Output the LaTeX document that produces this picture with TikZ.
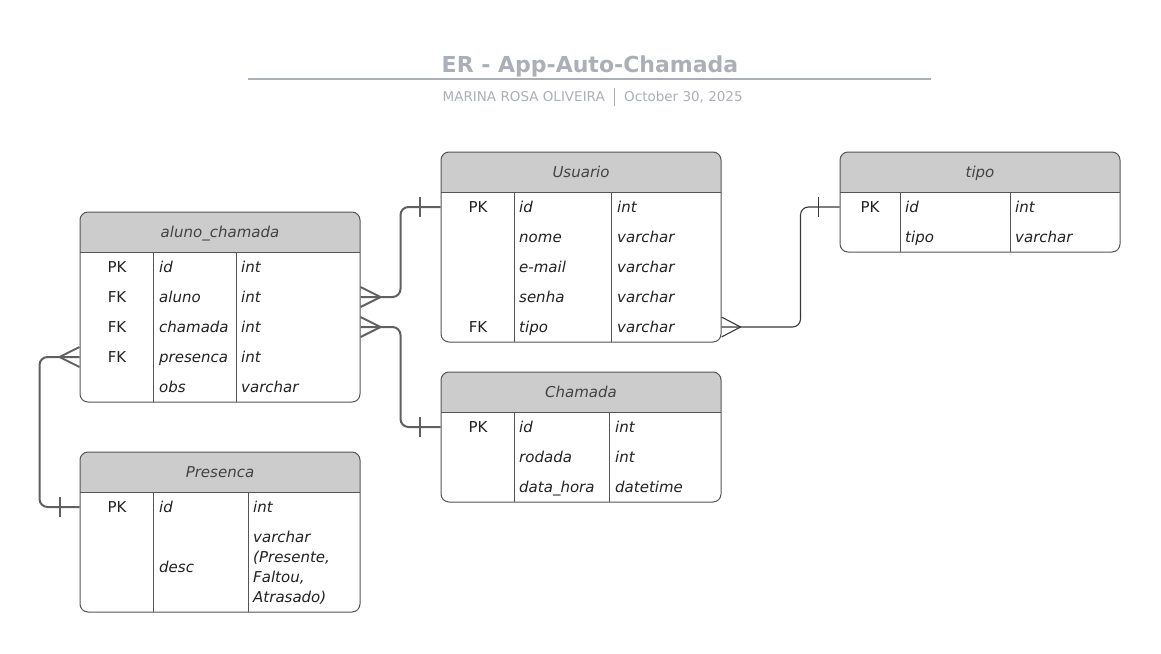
\documentclass[tikz,border=0pt]{standalone}
\usepackage{fontspec}
\setmainfont{DejaVu Sans}
\usetikzlibrary{calc}
\definecolor{titlegray}{HTML}{ABAFB7}
\definecolor{headfill}{HTML}{CCCCCC}
\definecolor{boxline}{HTML}{555555}
\definecolor{connline}{HTML}{606060}
\definecolor{txt}{HTML}{222222}
\tikzset{
  tbox/.style={draw=boxline, line width=1pt, rounded corners=8pt, inner sep=0pt},
  divline/.style={draw=boxline, line width=0.9pt},
  headtxt/.style={font=\fontsize{15}{18}\selectfont\itshape, text=txt!85!white, inner sep=0pt, text height=12pt, text depth=1pt},
  keytxt/.style={font=\fontsize{15}{18}\selectfont, text=txt, inner sep=0pt, text height=12pt, text depth=1pt},
  fldtxt/.style={font=\fontsize{15}{18}\selectfont\itshape, text=txt, inner sep=0pt, anchor=west, text height=12pt, text depth=1pt},
  conn/.style={draw=connline, line width=2pt, rounded corners=8pt},
  connthin/.style={draw=txt!90!white, line width=1.1pt, rounded corners=8pt},
}
\begin{document}
\begin{tikzpicture}[x=1pt,y=-1pt]
\useasboundingbox[fill=white] (0,0) rectangle (1161,653);

% title
\node[font=\fontsize{22}{26}\selectfont\bfseries, text=titlegray, inner sep=0pt, text height=17pt, text depth=5pt] (title) at (590,66) {ER - App-Auto-Chamada};
\coordinate (tl) at (248,79);
\coordinate (tr) at (931,79);
\draw[titlegray, line width=2pt] (tl) -- (tr);
\node[font=\fontsize{13.5}{16}\selectfont, text=titlegray, inner sep=0pt, anchor=east, text height=10pt, text depth=2pt] (author) at (605,97) {MARINA ROSA OLIVEIRA};
\node[font=\fontsize{13.5}{16}\selectfont, text=titlegray, inner sep=0pt, anchor=west, text height=10pt, text depth=2pt] (date) at (624,97) {October 30, 2025};
\coordinate (sbt) at (614,88);
\coordinate (sbb) at (614,106);
\draw[titlegray, line width=0.8pt] (sbt) -- (sbb);

% ---------- aluno_chamada ----------
\begin{scope}
\clip[rounded corners=8pt] (80,212) rectangle (360,402);
\fill[headfill] (80,212) rectangle (360,252);
\end{scope}
\node[tbox, minimum width=280pt, minimum height=190pt] (alu) at (220,307) {};
\draw[divline] (80,252) -- (360,252);
\draw[divline] (153,252) -- (153,402);
\draw[divline] (236,252) -- (236,402);
\node[headtxt] (alu-h) at (220,232) {aluno\_chamada};
\node[keytxt] (alu-k1) at (117,267) {PK};
\node[keytxt] (alu-k2) at (117,297) {FK};
\node[keytxt] (alu-k3) at (117,327) {FK};
\node[keytxt] (alu-k4) at (117,357) {FK};
\node[fldtxt] (alu-f1) at (159,267) {id};
\node[fldtxt] (alu-f2) at (159,297) {aluno};
\node[fldtxt] (alu-f3) at (159,327) {chamada};
\node[fldtxt] (alu-f4) at (159,357) {presenca};
\node[fldtxt] (alu-f5) at (159,387) {obs};
\node[fldtxt] (alu-t1) at (241,267) {int};
\node[fldtxt] (alu-t2) at (241,297) {int};
\node[fldtxt] (alu-t3) at (241,327) {int};
\node[fldtxt] (alu-t4) at (241,357) {int};
\node[fldtxt] (alu-t5) at (241,387) {varchar};

% ---------- Usuario ----------
\begin{scope}
\clip[rounded corners=8pt] (441,152) rectangle (721,342);
\fill[headfill] (441,152) rectangle (721,192);
\end{scope}
\node[tbox, minimum width=280pt, minimum height=190pt] (usu) at (581,247) {};
\draw[divline] (441,192) -- (721,192);
\draw[divline] (514,192) -- (514,342);
\draw[divline] (611,192) -- (611,342);
\node[headtxt] (usu-h) at (581,172) {Usuario};
\node[keytxt] (usu-k1) at (478,207) {PK};
\node[keytxt] (usu-k5) at (478,327) {FK};
\node[fldtxt] (usu-f1) at (519,207) {id};
\node[fldtxt] (usu-f2) at (519,237) {nome};
\node[fldtxt] (usu-f3) at (519,267) {e-mail};
\node[fldtxt] (usu-f4) at (519,297) {senha};
\node[fldtxt] (usu-f5) at (519,327) {tipo};
\node[fldtxt] (usu-t1) at (617,207) {int};
\node[fldtxt] (usu-t2) at (617,237) {varchar};
\node[fldtxt] (usu-t3) at (617,267) {varchar};
\node[fldtxt] (usu-t4) at (617,297) {varchar};
\node[fldtxt] (usu-t5) at (617,327) {varchar};

% ---------- tipo ----------
\begin{scope}
\clip[rounded corners=8pt] (840,152) rectangle (1120,252);
\fill[headfill] (840,152) rectangle (1120,192);
\end{scope}
\node[tbox, minimum width=280pt, minimum height=100pt] (tip) at (980,202) {};
\draw[divline] (840,192) -- (1120,192);
\draw[divline] (900,192) -- (900,252);
\draw[divline] (1010,192) -- (1010,252);
\node[headtxt] (tip-h) at (980,172) {tipo};
\node[keytxt] (tip-k1) at (870,207) {PK};
\node[fldtxt] (tip-f1) at (905,207) {id};
\node[fldtxt] (tip-f2) at (905,237) {tipo};
\node[fldtxt] (tip-t1) at (1015,207) {int};
\node[fldtxt] (tip-t2) at (1015,237) {varchar};

% ---------- Chamada ----------
\begin{scope}
\clip[rounded corners=8pt] (441,372) rectangle (721,502);
\fill[headfill] (441,372) rectangle (721,412);
\end{scope}
\node[tbox, minimum width=280pt, minimum height=130pt] (cha) at (581,437) {};
\draw[divline] (441,412) -- (721,412);
\draw[divline] (514,412) -- (514,502);
\draw[divline] (609,412) -- (609,502);
\node[headtxt] (cha-h) at (581,392) {Chamada};
\node[keytxt] (cha-k1) at (478,427) {PK};
\node[fldtxt] (cha-f1) at (519,427) {id};
\node[fldtxt] (cha-f2) at (519,457) {rodada};
\node[fldtxt] (cha-f3) at (519,487) {data\_hora};
\node[fldtxt] (cha-t1) at (615,427) {int};
\node[fldtxt] (cha-t2) at (615,457) {int};
\node[fldtxt] (cha-t3) at (615,487) {datetime};

% ---------- Presenca ----------
\begin{scope}
\clip[rounded corners=8pt] (80,452) rectangle (360,612);
\fill[headfill] (80,452) rectangle (360,492);
\end{scope}
\node[tbox, minimum width=280pt, minimum height=160pt] (pre) at (220,532) {};
\draw[divline] (80,492) -- (360,492);
\draw[divline] (153,492) -- (153,612);
\draw[divline] (248,492) -- (248,612);
\node[headtxt] (pre-h) at (220,472) {Presenca};
\node[keytxt] (pre-k1) at (117,507) {PK};
\node[fldtxt] (pre-f1) at (159,507) {id};
\node[fldtxt] (pre-f2) at (159,567) {desc};
\node[fldtxt] (pre-t1) at (253,507) {int};
\node[fldtxt, align=left, font=\fontsize{15}{20}\selectfont\itshape, text height=, text depth=] (pre-t2) at (253,568) {varchar\\(Presente,\\Faltou,\\Atrasado)};

% ---------- connectors ----------
% aluno_chamada.aluno -> Usuario.id
\coordinate (c1a) at (alu.east |- alu-f2);
\coordinate (c1b) at (usu.west |- usu-f1);
\draw[conn] (c1a) -- ++(40,0) |- (c1b);
\draw[conn, rounded corners=0pt] ($(c1a)+(0,-10)$) -- ($(c1a)+(20,0)$) -- ($(c1a)+(0,10)$);
\draw[conn, rounded corners=0pt] ($(c1b)+(-21,-10)$) -- ($(c1b)+(-21,10)$);

% aluno_chamada.chamada -> Chamada.id
\coordinate (c2a) at (alu.east |- alu-f3);
\coordinate (c2b) at (cha.west |- cha-f1);
\draw[conn] (c2a) -- ++(40,0) |- (c2b);
\draw[conn, rounded corners=0pt] ($(c2a)+(0,-10)$) -- ($(c2a)+(20,0)$) -- ($(c2a)+(0,10)$);
\draw[conn, rounded corners=0pt] ($(c2b)+(-21,-10)$) -- ($(c2b)+(-21,10)$);

% Usuario.tipo -> tipo.id
\coordinate (c3a) at (usu.east |- usu-f5);
\coordinate (c3b) at (tip.west |- tip-f1);
\draw[connthin] (c3a) -- ++(79,0) |- (c3b);
\draw[connthin, rounded corners=0pt] ($(c3a)+(0,-10)$) -- ($(c3a)+(19,0)$) -- ($(c3a)+(0,10)$);
\draw[connthin, rounded corners=0pt] ($(c3b)+(-21,-10)$) -- ($(c3b)+(-21,10)$);

% aluno_chamada.presenca -> Presenca.id
\coordinate (c4a) at (alu.west |- alu-f4);
\coordinate (c4b) at (pre.west |- pre-f1);
\draw[conn] (c4a) -- ++(-40,0) |- (c4b);
\draw[conn, rounded corners=0pt] ($(c4a)+(0,-10)$) -- ($(c4a)+(-20,0)$) -- ($(c4a)+(0,10)$);
\draw[conn, rounded corners=0pt] ($(c4b)+(-20,-10)$) -- ($(c4b)+(-20,10)$);
\end{tikzpicture}
\end{document}
